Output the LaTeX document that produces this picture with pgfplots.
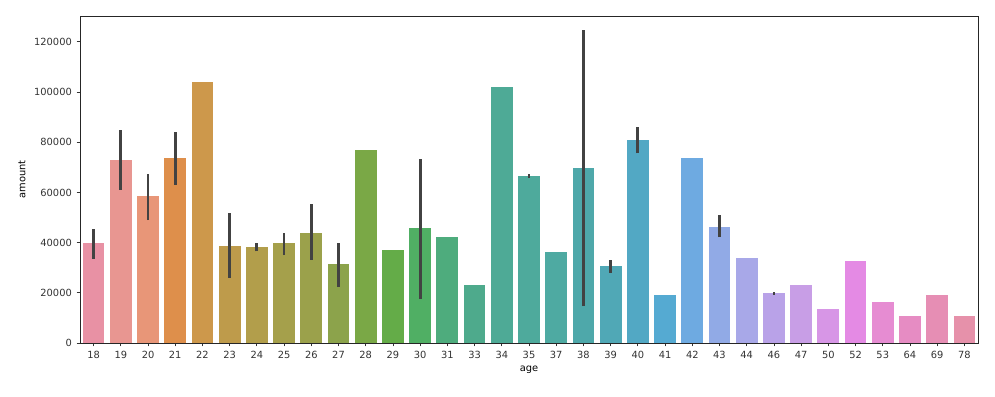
\documentclass[border=0pt]{standalone}
\usepackage{pgfplots}
\pgfplotsset{compat=1.18}
\usepackage{fontspec}
\setmainfont{DejaVu Sans}
\definecolor{c0}{RGB}{232,145,164}
\definecolor{c1}{RGB}{232,150,145}
\definecolor{c2}{RGB}{232,150,120}
\definecolor{c3}{RGB}{222,143,75}
\definecolor{c4}{RGB}{205,152,75}
\definecolor{c5}{RGB}{190,155,75}
\definecolor{c6}{RGB}{178,158,75}
\definecolor{c7}{RGB}{165,160,75}
\definecolor{c8}{RGB}{155,161,75}
\definecolor{c9}{RGB}{140,163,75}
\definecolor{c10}{RGB}{122,168,70}
\definecolor{c11}{RGB}{100,172,72}
\definecolor{c12}{RGB}{80,175,100}
\definecolor{c13}{RGB}{78,172,125}
\definecolor{c14}{RGB}{78,170,140}
\definecolor{c15}{RGB}{78,170,150}
\definecolor{c16}{RGB}{78,170,156}
\definecolor{c17}{RGB}{78,170,162}
\definecolor{c18}{RGB}{78,168,170}
\definecolor{c19}{RGB}{80,168,182}
\definecolor{c20}{RGB}{82,168,196}
\definecolor{c21}{RGB}{85,170,210}
\definecolor{c22}{RGB}{110,170,225}
\definecolor{c23}{RGB}{145,170,230}
\definecolor{c24}{RGB}{168,168,232}
\definecolor{c25}{RGB}{185,162,232}
\definecolor{c26}{RGB}{200,158,230}
\definecolor{c27}{RGB}{215,150,230}
\definecolor{c28}{RGB}{228,138,228}
\definecolor{c29}{RGB}{230,140,210}
\definecolor{c30}{RGB}{230,140,195}
\definecolor{c31}{RGB}{230,142,180}
\definecolor{c32}{RGB}{230,145,170}
\definecolor{errc}{RGB}{66,66,66}
\begin{document}
\begin{tikzpicture}
\useasboundingbox (-60pt,-39.75pt) rectangle (686.25pt,257.25pt);
\begin{axis}[
  at={(0,0)}, anchor=south west,
  scale only axis,
  width=673.5pt, height=245.25pt,
  xmin=-0.5, xmax=32.5, ymin=0, ymax=130300,
  ybar, bar width=0.8, bar shift=0pt,
  xtick={0,...,32},
  xticklabels={18,19,20,21,22,23,24,25,26,27,28,29,30,31,33,34,35,37,38,39,40,41,42,43,44,46,47,50,52,53,64,69,78},
  ytick={0,20000,40000,60000,80000,100000,120000},
  yticklabels={0,20000,40000,60000,80000,100000,120000},
  scaled y ticks=false,
  xticklabel style={text height=5.6pt, text depth=0pt},
  tick label style={font=\fontsize{7.4}{8}\selectfont, text=black!80},
  label style={font=\fontsize{7.4}{8}\selectfont},
  tick align=outside, tick pos=left,
  major tick length=2.6pt,
  every tick/.style={black!80, line width=0.6pt},
  axis line style={black!85, line width=0.6pt},
  xlabel={age}, ylabel={amount},
  xlabel style={at={(axis description cs:0.5,-0.0826)}, anchor=center},
  ylabel style={at={(axis description cs:-0.0646,0.5)}, anchor=center},
  clip=false,
]
\addplot[fill=c0,draw=none] coordinates {(0,39650)};
\addplot[fill=c1,draw=none] coordinates {(1,72930)};
\addplot[fill=c2,draw=none] coordinates {(2,58480)};
\addplot[fill=c3,draw=none] coordinates {(3,73730)};
\addplot[fill=c4,draw=none] coordinates {(4,103830)};
\addplot[fill=c5,draw=none] coordinates {(5,38850)};
\addplot[fill=c6,draw=none] coordinates {(6,38060)};
\addplot[fill=c7,draw=none] coordinates {(7,39650)};
\addplot[fill=c8,draw=none] coordinates {(8,44020)};
\addplot[fill=c9,draw=none] coordinates {(9,31290)};
\addplot[fill=c10,draw=none] coordinates {(10,77040)};
\addplot[fill=c11,draw=none] coordinates {(11,36860)};
\addplot[fill=c12,draw=none] coordinates {(12,45750)};
\addplot[fill=c13,draw=none] coordinates {(13,42430)};
\addplot[fill=c14,draw=none] coordinates {(14,22940)};
\addplot[fill=c15,draw=none] coordinates {(15,101840)};
\addplot[fill=c16,draw=none] coordinates {(16,66700)};
\addplot[fill=c17,draw=none] coordinates {(17,36070)};
\addplot[fill=c18,draw=none] coordinates {(18,69750)};
\addplot[fill=c19,draw=none] coordinates {(19,30500)};
\addplot[fill=c20,draw=none] coordinates {(20,81020)};
\addplot[fill=c21,draw=none] coordinates {(21,18960)};
\addplot[fill=c22,draw=none] coordinates {(22,73730)};
\addplot[fill=c23,draw=none] coordinates {(23,46410)};
\addplot[fill=c24,draw=none] coordinates {(24,33680)};
\addplot[fill=c25,draw=none] coordinates {(25,20020)};
\addplot[fill=c26,draw=none] coordinates {(26,23200)};
\addplot[fill=c27,draw=none] coordinates {(27,13660)};
\addplot[fill=c28,draw=none] coordinates {(28,32490)};
\addplot[fill=c29,draw=none] coordinates {(29,16440)};
\addplot[fill=c30,draw=none] coordinates {(30,10870)};
\addplot[fill=c31,draw=none] coordinates {(31,18960)};
\addplot[fill=c32,draw=none] coordinates {(32,10870)};
\addplot[sharp plot, errc, line width=2.1pt, unbounded coords=jump, mark=none] coordinates {
(0,33600) (0,45500) (0,nan)
(1,61000) (1,84800) (1,nan)
(2,49000) (2,67500) (2,nan)
(3,63000) (3,84000) (3,nan)
(5,26000) (5,51700) (5,nan)
(6,36500) (6,40000) (6,nan)
(7,35000) (7,44000) (7,nan)
(8,33200) (8,55200) (8,nan)
(9,22400) (9,40000) (9,nan)
(12,17500) (12,73200) (12,nan)
(16,65700) (16,67300) (16,nan)
(18,14700) (18,124800) (18,nan)
(19,28000) (19,32900) (19,nan)
(20,75600) (20,86000) (20,nan)
(23,42200) (23,51000) (23,nan)
(25,19200) (25,20400)
};
\end{axis}
\end{tikzpicture}
\end{document}
